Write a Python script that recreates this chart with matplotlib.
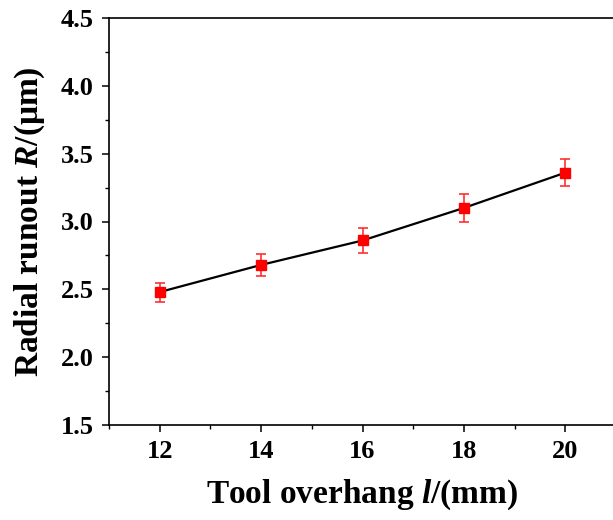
import matplotlib
matplotlib.use("Agg")
import matplotlib.pyplot as plt
from matplotlib.ticker import MultipleLocator

# tool overhang (mm) vs radial runout (um)
overhang = [12, 14, 16, 18, 20]
runout = [2.48, 2.68, 2.86, 3.10, 3.36]
runout_err = [0.07, 0.08, 0.09, 0.10, 0.10]

plt.rcParams['font.family'] = ['Liberation Serif', 'DejaVu Serif']
plt.rcParams['font.weight'] = 'bold'
plt.rcParams['mathtext.fontset'] = 'custom'
plt.rcParams['mathtext.rm'] = 'Liberation Serif:bold'
plt.rcParams['mathtext.it'] = 'Liberation Serif:italic:bold'

fig = plt.figure(figsize=(6.13, 5.2), dpi=100)
# axes runs a little past the right edge, as in the cropped original
ax = fig.add_axes([109 / 613, 1 - 425 / 520, 507 / 613, 407 / 520])

ax.plot(overhang, runout, color='black', lw=1.6, zorder=2)
ax.errorbar(overhang, runout, yerr=runout_err, fmt='s', color='red',
            ms=6.5, ecolor='#ff3030', elinewidth=1.2, capsize=3.5,
            capthick=1.2, zorder=3)

ax.set_xlim(11, 21)
ax.set_ylim(1.5, 4.5)
ax.xaxis.set_major_locator(MultipleLocator(2))
ax.xaxis.set_minor_locator(MultipleLocator(1))
ax.yaxis.set_major_locator(MultipleLocator(0.5))
ax.yaxis.set_minor_locator(MultipleLocator(0.25))
ax.tick_params(which='major', direction='out', length=5, width=1.1,
               labelsize=19, pad=6)
ax.tick_params(which='minor', direction='out', length=3, width=1.0)
ax.tick_params(top=False, right=False)
for s in ax.spines.values():
    s.set_linewidth(1.2)

ax.set_xlabel(r'Tool overhang $l$/(mm)', fontsize=24, fontweight='bold',
              labelpad=10)
ax.set_ylabel(r'Radial runout $R$/(μm)', fontsize=24, fontweight='bold',
              labelpad=10)

fig.savefig('out.png', dpi=100)
